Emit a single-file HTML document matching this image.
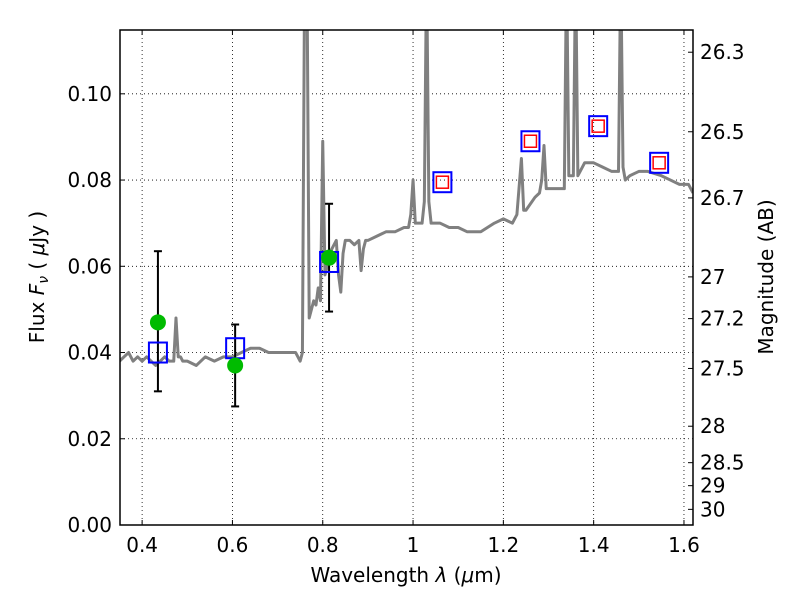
<!DOCTYPE html>
<html><head><meta charset="utf-8"><style>
body{margin:0;background:#fff;}
svg text{font-family:"DejaVu Sans","Liberation Sans",sans-serif;fill:#000;}
</style></head><body>
<svg id="chart" width="800" height="600" xmlns="http://www.w3.org/2000/svg">
<rect width="800" height="600" fill="#fff"/>
<g id="grid"></g>
<g id="spec"></g>
<g id="marks"></g>
<g id="axes"></g>
<text x="406" y="582" font-size="20" text-anchor="middle">Wavelength  <tspan font-style="italic">λ</tspan> (<tspan font-style="italic">μ</tspan>m)</text>
<text transform="translate(44,277) rotate(-90)" font-size="20" text-anchor="middle">Flux  <tspan font-style="italic">F</tspan><tspan font-style="italic" font-size="14" dy="4">ν</tspan><tspan dy="-4">  (  </tspan><tspan font-style="italic">μ</tspan>Jy )</text>
<text transform="translate(773,277) rotate(-90)" font-size="20" text-anchor="middle">Magnitude (AB)</text>
</svg>
<script>
const specX=[0.35,0.36,0.37,0.38,0.39,0.40,0.41,0.42,0.43,0.44,0.45,0.46,0.47,0.475,0.48,0.485,0.49,0.50,0.52,0.54,0.56,0.58,0.60,0.62,0.64,0.66,0.68,0.70,0.72,0.74,0.75,0.755,0.76,0.765,0.77,0.775,0.78,0.785,0.79,0.795,0.80,0.805,0.81,0.82,0.83,0.835,0.84,0.845,0.85,0.86,0.87,0.88,0.885,0.89,0.895,0.90,0.92,0.94,0.96,0.98,0.99,0.995,1.0,1.005,1.01,1.02,1.025,1.03,1.035,1.04,1.06,1.08,1.10,1.12,1.15,1.18,1.20,1.22,1.23,1.24,1.245,1.25,1.27,1.28,1.285,1.29,1.295,1.30,1.32,1.335,1.34,1.345,1.355,1.36,1.365,1.37,1.38,1.40,1.42,1.44,1.455,1.46,1.465,1.47,1.48,1.50,1.52,1.55,1.57,1.59,1.61,1.62];
const specY=[0.038,0.039,0.040,0.038,0.039,0.038,0.039,0.038,0.037,0.038,0.039,0.038,0.038,0.048,0.039,0.039,0.038,0.038,0.037,0.039,0.038,0.039,0.039,0.040,0.041,0.041,0.040,0.040,0.040,0.040,0.038,0.04,0.13,0.13,0.048,0.050,0.052,0.051,0.055,0.052,0.089,0.058,0.060,0.064,0.066,0.058,0.054,0.063,0.066,0.066,0.065,0.066,0.059,0.064,0.066,0.066,0.067,0.068,0.068,0.069,0.069,0.072,0.080,0.070,0.070,0.070,0.075,0.13,0.075,0.070,0.070,0.069,0.069,0.068,0.068,0.070,0.071,0.070,0.072,0.085,0.073,0.073,0.076,0.077,0.080,0.088,0.078,0.078,0.078,0.078,0.13,0.081,0.081,0.13,0.081,0.082,0.084,0.084,0.083,0.082,0.082,0.13,0.083,0.080,0.081,0.082,0.082,0.081,0.080,0.079,0.079,0.077];
const bandX=[0.435,0.606,0.814,1.065,1.26,1.41,1.545];
const modelFlux=[0.040,0.041,0.061,0.0795,0.089,0.0925,0.084];
const nirX=[1.065,1.26,1.41,1.545];
const nirFlux=[0.0795,0.089,0.0925,0.084];
const obsX=[0.435,0.606,0.814];
const obsFlux=[0.047,0.037,0.062];
const obsLo=[0.031,0.0275,0.0495];
const obsHi=[0.0635,0.0465,0.0745];
const xTicks=[0.4,0.6,0.8,1.0,1.2,1.4,1.6];
const xTickLabels=["0.4","0.6","0.8","1","1.2","1.4","1.6"];
const yTicks=[0,0.02,0.04,0.06,0.08,0.10];
const yTickLabels=["0.00","0.02","0.04","0.06","0.08","0.10"];
const magTicks=[26.3,26.5,26.7,27,27.2,27.5,28,28.5,29,30];
const magTickLabels=["26.3","26.5","26.7","27","27.2","27.5","28","28.5","29","30"];
const L=120,R=693,T=30,B=525,X0=0.351,X1=1.62,Y0=0,Y1=0.1148;
const NS="http://www.w3.org/2000/svg";
function sx(v){return L+(v-X0)/(X1-X0)*(R-L);}
function sy(v){return B-(v-Y0)/(Y1-Y0)*(B-T);}
function mk(tag,attrs,parent){const e=document.createElementNS(NS,tag);for(const k in attrs)e.setAttribute(k,attrs[k]);parent.appendChild(e);return e;}
const grid=document.getElementById('grid'),spec=document.getElementById('spec'),marks=document.getElementById('marks'),axes=document.getElementById('axes');
xTicks.forEach((t,i)=>{const x=sx(t);
 const g=mk('line',{x1:x,x2:x,y1:T,y2:B,stroke:'#000','stroke-dasharray':'1,3','stroke-width':0.8},grid);
 
 mk('line',{x1:x,x2:x,y1:B,y2:B-5,stroke:'#000'},axes);mk('line',{x1:x,x2:x,y1:T,y2:T+5,stroke:'#000'},axes);
 const tx=mk('text',{x:x,y:B+27,'font-size':20,'text-anchor':'middle'},axes);tx.textContent=xTickLabels[i];
 });
yTicks.forEach((t,i)=>{const y=sy(t);
 const g=mk('line',{x1:L,x2:R,y1:y,y2:y,stroke:'#000','stroke-dasharray':'1,3','stroke-width':0.8},grid);
 
 mk('line',{x1:L,x2:L+5,y1:y,y2:y,stroke:'#000'},axes);
 const tx=mk('text',{x:L-8,y:y+7,'font-size':20,'text-anchor':'end'},axes);tx.textContent=yTickLabels[i];
 });
magTicks.forEach((m,i)=>{const f=Math.pow(10,(23.9-m)/2.5);const y=sy(f);
 mk('line',{x1:R,x2:R-5,y1:y,y2:y,stroke:'#000'},axes);
 const tx=mk('text',{x:R+7,y:y+7,'font-size':20},axes);tx.textContent=magTickLabels[i];
 });
const cp=mk('clipPath',{id:'clip'},document.getElementById('chart'));mk('rect',{x:L,y:T,width:R-L,height:B-T},cp);
spec.setAttribute('clip-path','url(#clip)');
const pl=mk('polyline',{points:specX.map((x,i)=>sx(x)+','+sy(specY[i])).join(' '),fill:'none',stroke:'#808080','stroke-width':3,'stroke-linejoin':'round'},spec);

obsX.forEach((x,i)=>{const X=sx(x);
 const e=mk('g',{stroke:'#000','stroke-width':2},marks);
 
 mk('line',{x1:X,x2:X,y1:sy(obsLo[i]),y2:sy(obsHi[i])},e);
 mk('line',{x1:X-4,x2:X+4,y1:sy(obsLo[i]),y2:sy(obsLo[i])},e);
 mk('line',{x1:X-4,x2:X+4,y1:sy(obsHi[i]),y2:sy(obsHi[i])},e);});
bandX.forEach((x,i)=>{const s=mk('rect',{x:sx(x)-9,y:sy(modelFlux[i])-10,width:18,height:20,fill:'none',stroke:'#0000ff','stroke-width':2},marks);
 });
nirX.forEach((x,i)=>{const s=mk('rect',{x:sx(x)-6,y:sy(nirFlux[i])-6,width:12,height:12,fill:'none',stroke:'#ff0000','stroke-width':1.5},marks);
 });
obsX.forEach((x,i)=>{const c=mk('circle',{cx:sx(x),cy:sy(obsFlux[i]),r:8,fill:'#00bb00'},marks);
 });
const fr=mk('rect',{x:L,y:T,width:R-L,height:B-T,fill:'none',stroke:'#000','stroke-width':1.5},axes);

</script>
</body></html>
